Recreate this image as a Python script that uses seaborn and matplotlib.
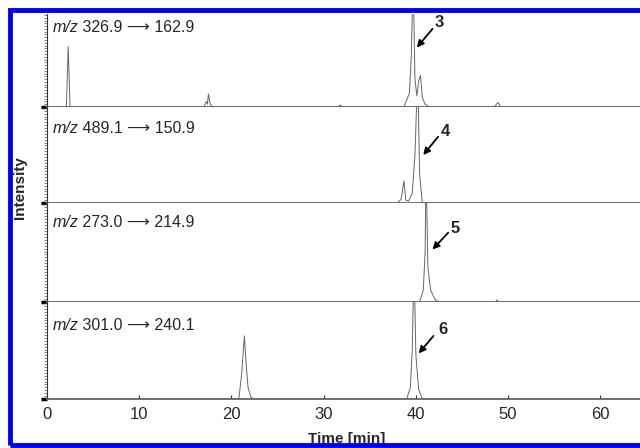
import matplotlib
matplotlib.use("Agg")
import matplotlib.pyplot as plt
import matplotlib.ticker as ticker
from matplotlib.patches import Rectangle
import seaborn as sns
import pandas as pd

sns.set_style("ticks")
plt.rcParams['font.family'] = ['Liberation Sans', 'DejaVu Sans']

# transitions (one panel each)
transitions = ["326.9 ⟶ 162.9", "489.1 ⟶ 150.9", "273.0 ⟶ 214.9", "301.0 ⟶ 240.1"]
peak_ids = ["3", "4", "5", "6"]

# chromatogram traces (time [min], relative intensity)
time_1 = [0, 2.1, 2.3, 2.5, 17.0, 17.3, 17.4, 17.5, 17.7, 18.0, 31.5, 31.8, 32.1,
          38.7, 39.3, 39.5, 39.7, 39.9, 40.1, 40.3, 40.5, 40.7, 41.0, 41.5,
          48.5, 48.9, 49.2, 65]
int_1 = [0, 0, 0.65, 0, 0, 0.06, 0.03, 0.14, 0.03, 0, 0, 0.02, 0,
         0, 0.15, 0.55, 1.4, 0.3, 0.12, 0.28, 0.34, 0.1, 0.03, 0,
         0, 0.05, 0, 0]

time_2 = [0, 38.0, 38.4, 38.7, 38.9, 39.2, 39.6, 39.9, 40.2, 40.4, 40.7, 65]
int_2 = [0, 0, 0.04, 0.23, 0.03, 0.02, 0.1, 0.5, 1.4, 0.3, 0, 0]

time_3 = [0, 40.4, 40.8, 41.0, 41.1, 41.3, 41.6, 42.1, 42.6, 48.6, 48.8, 49.0, 65]
int_3 = [0, 0, 0.12, 0.5, 1.4, 0.35, 0.12, 0.02, 0, 0, 0.02, 0, 0]

time_4 = [0, 20.8, 21.1, 21.4, 21.6, 21.8, 22.1, 22.4,
          39.0, 39.4, 39.6, 39.8, 40.0, 40.3, 40.7, 65]
int_4 = [0, 0, 0.25, 0.65, 0.35, 0.12, 0.02, 0,
         0, 0.12, 0.5, 1.4, 0.45, 0.1, 0, 0]

traces = [(time_1, int_1), (time_2, int_2), (time_3, int_3), (time_4, int_4)]

# peak number, arrow tail and arrow tip (time, rel. intensity)
label_xy = [(42.5, 0.91), (43.2, 0.75), (44.3, 0.74), (42.9, 0.72)]
tail_xy = [(41.8, 0.84), (42.4, 0.69), (43.5, 0.70), (41.9, 0.65)]
tip_xy = [(40.1, 0.64), (40.8, 0.50), (41.8, 0.53), (40.3, 0.47)]
title_y = [0.94, 0.85, 0.88, 0.84]

fig = plt.figure(figsize=(6.4, 4.48), dpi=100)
gs = fig.add_gridspec(4, 1, left=47/640, right=1.0, top=1-14/448, bottom=1-399/448,
                      hspace=0, height_ratios=[93, 96, 99, 97])

for i, (t, y) in enumerate(traces):
    ax = fig.add_subplot(gs[i])
    df = pd.DataFrame({"time": t, "intensity": y})
    sns.lineplot(data=df, x="time", y="intensity", ax=ax, color="#666666", lw=0.7)
    ax.set_xlim(0, 64.3)
    ax.set_ylim(0, 1)
    ax.set_xlabel("")
    ax.set_ylabel("")
    for s in ["top", "right"]:
        ax.spines[s].set_visible(False)
    ax.spines["bottom"].set_color("#666666")
    ax.spines["bottom"].set_linewidth(1.3)
    ax.spines["left"].set_color("#333333")
    ax.spines["left"].set_linewidth(0.8)
    ax.yaxis.set_major_locator(ticker.FixedLocator([0]))
    ax.yaxis.set_minor_locator(ticker.MultipleLocator(0.03))
    ax.tick_params(axis="y", which="major", length=4, width=2.5, color="black",
                   labelleft=False)
    ax.tick_params(axis="y", which="minor", length=2, width=0.5, color="#555555")
    ax.xaxis.set_major_locator(ticker.MultipleLocator(10))
    if i < 3:
        ax.tick_params(axis="x", which="both", length=0, labelbottom=False)
    else:
        ax.tick_params(axis="x", direction="in", length=3, width=0.8,
                       labelsize=12, pad=6, color="#333333")
    mz = ax.text(0.6, title_y[i], "m/z", fontsize=11.5, fontstyle="italic",
                 va="top", ha="left")
    ax.annotate(" " + transitions[i], xy=(1, 1), xycoords=mz, fontsize=11.5,
                va="top", ha="left")
    ax.annotate("", xy=tip_xy[i], xytext=tail_xy[i],
                arrowprops=dict(arrowstyle="-|>", color="black", lw=1.3,
                                mutation_scale=10, shrinkA=0, shrinkB=0))
    ax.text(label_xy[i][0], label_xy[i][1], peak_ids[i], fontsize=12,
            fontweight="bold", ha="center", va="center")

fig.text(20/640, 1-188/448, "Intensity", rotation=90, fontsize=11,
         fontweight="bold", ha="center", va="center")
fig.text(347/640, 1-439/448, "Time [min]", fontsize=11, fontweight="bold",
         ha="center", va="center")

# blue frame around the figure (runs off the right edge)
fig.patches.append(Rectangle((10/640, 3/448), 1.0, 1-13/448, transform=fig.transFigure,
                             fill=False, edgecolor="#0000ee", lw=3.5, zorder=10))

fig.savefig("out.png", dpi=100)
